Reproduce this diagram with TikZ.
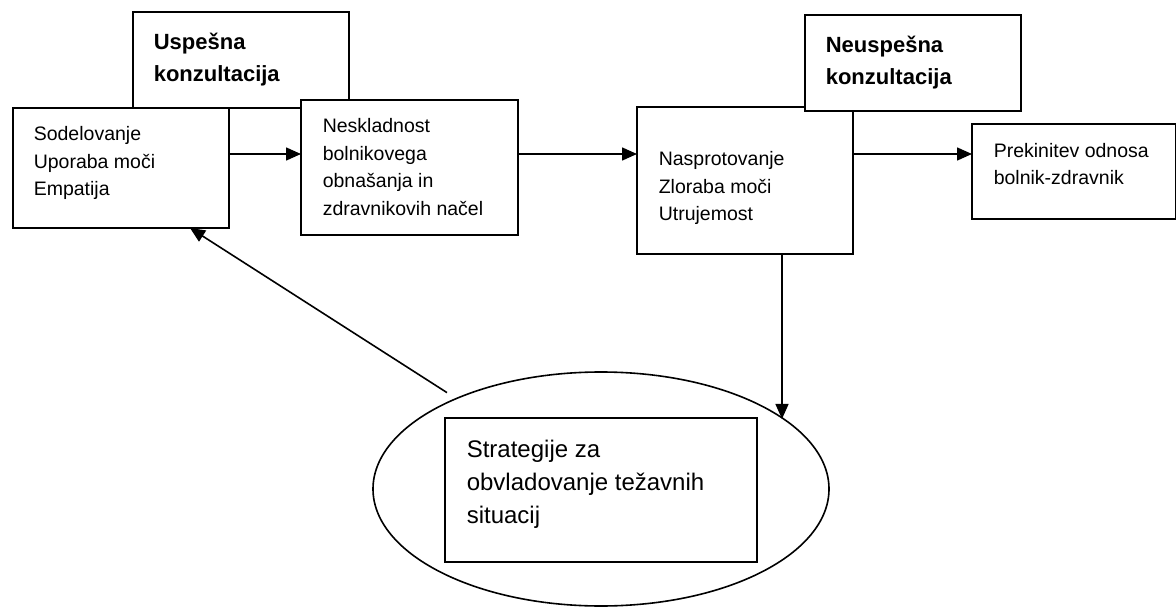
\documentclass[tikz,border=0pt]{standalone}
\usepackage{fontspec}
\setmainfont{Liberation Sans}
\usetikzlibrary{arrows.meta,shapes.geometric,calc}
\begin{document}
\begin{tikzpicture}[x=1pt,y=-1pt, line width=1.6pt,
 box/.style={draw, fill=white, rectangle, inner sep=0pt, outer sep=0pt, anchor=north west},
 txt/.style={anchor=base west, inner sep=0pt, align=left, font=\fontsize{19.5pt}{27.5pt}\selectfont},
 head/.style={anchor=base west, inner sep=0pt, align=left, font=\fontsize{22pt}{32pt}\selectfont\bfseries},
 big/.style={anchor=base west, inner sep=0pt, align=left, font=\fontsize{24pt}{33pt}\selectfont},
 arr/.style={-{Triangle[length=15pt,width=13pt]}}]
\useasboundingbox (0,0) rectangle (1176,607);
% boxes
\node[box, minimum width=216pt, minimum height=96pt] (us) at (133,12) {};
\node[box, minimum width=216pt, minimum height=120pt] (so) at (13,108) {};
\node[box, minimum width=217pt, minimum height=135pt] (ne) at (301,100) {};
\node[box, minimum width=216pt, minimum height=147pt] (na) at (637,107) {};
\node[box, minimum width=216pt, minimum height=96pt] (nu) at (805,15) {};
\node[box, minimum width=204pt, minimum height=95pt] (pr) at (972,124) {};
\node[ellipse, draw, minimum width=456pt, minimum height=234pt, inner sep=0pt, outer sep=0pt] (el) at (601,489) {};
\node[box, minimum width=312pt, minimum height=144pt] (st) at (445,418) {};
% texts (anchor = baseline of the last line)
\node[head] (tus) at (153,82) {Uspešna\\konzultacija};
\node[txt] (tso) at (33,196) {Sodelovanje\\Uporaba moči\\Empatija};
\node[txt] (tne) at (322,215) {Neskladnost\\bolnikovega\\obnašanja in\\zdravnikovih načel};
\node[txt] (tna) at (658,221) {Nasprotovanje\\Zloraba moči\\Utrujemost};
\node[head] (tnu) at (825,85) {Neuspešna\\konzultacija};
\node[txt] (tpr) at (993,184.5) {Prekinitev odnosa\\bolnik-zdravnik};
\node[big] (tst) at (466,523) {Strategije za\\obvladovanje težavnih\\situacij};
% connectors
\draw[arr] ([yshift=14pt]so.east) -- ([yshift=14pt]so.east -| ne.west);
\draw[arr] ([yshift=13.5pt]ne.east) -- ([yshift=13.5pt]ne.east -| na.west);
\draw[arr] ([yshift=26.5pt]na.east) -- ([yshift=26.5pt]na.east -| pr.west);
\draw[arr] ([xshift=37pt]na.south) -- ([xshift=37pt]na.south |- el.21.7);
\coordinate (tipS) at ([xshift=69pt]so.south);
\draw[arr] ($(tipS)!0.965!(el.148)$) -- (tipS);
\end{tikzpicture}
\end{document}
